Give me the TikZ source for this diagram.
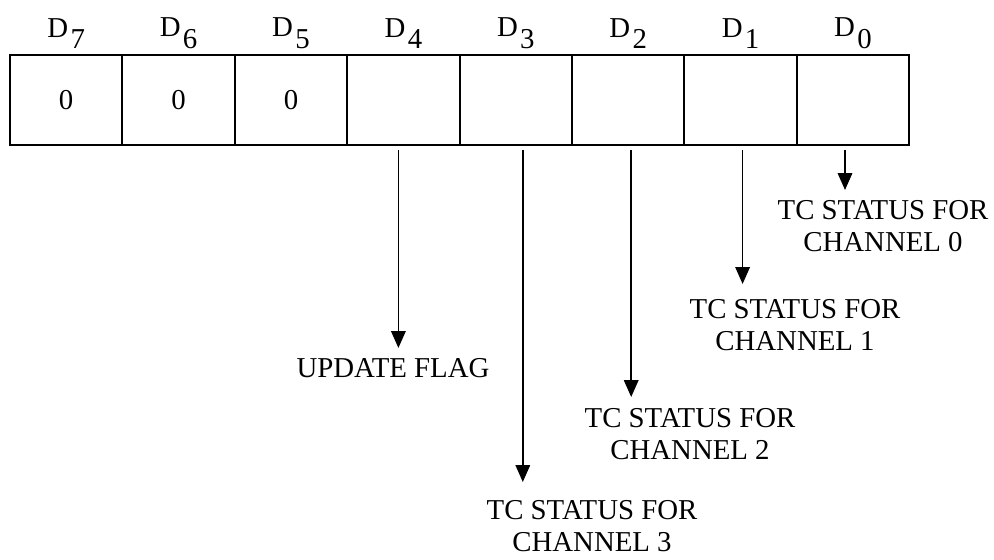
\documentclass[tikz,border=0pt]{standalone}
\usepackage{fontspec}
\setmainfont{Liberation Serif}
\usepackage{tikz}
\usetikzlibrary{arrows.meta, positioning}
\newcommand{\regfont}{\fontsize{20.5}{22.8}\selectfont}

\begin{document}
\begin{tikzpicture}[
        bitcell/.style={rectangle, draw=black, line width=1.4pt, minimum width=2.81cm, minimum height=2.25cm, inner sep=0pt, font=\regfont},
        bitlabel/.style={inner sep=0pt, font=\regfont},
        flagtext/.style={inner sep=0pt, anchor=north, align=center, font=\regfont},
        sigarrow/.style={-{Triangle[length=0.42cm, width=0.36cm]}, line width=1.2pt, color=black}
    ]
        \useasboundingbox (0,0) rectangle (24.85,-14);

        % Register cells D7 ... D0
        \foreach \k/\val [count=\i from 0] in {7/0,6/0,5/0,4/,3/,2/,1/,0/} {
            \node[bitcell] (d\k) at ({1.655+2.81*\i}, -2.5) {\val};
            \node[bitlabel, above=0.125cm of d\k] (lbl\k) {D\kern0.08em\raisebox{-0.4em}{\k}};
        }

        % Status texts
        \node[flagtext] (flag) at (9.825, -8.95) {UPDATE FLAG};
        \node[flagtext] (ch3) at (14.8, -12.5) {TC STATUS FOR\\CHANNEL 3};
        \node[flagtext] (ch2) at (17.25, -10.2) {TC STATUS FOR\\CHANNEL 2};
        \node[flagtext] (ch1) at (19.875, -7.475) {TC STATUS FOR\\CHANNEL 1};
        \node[flagtext] (ch0) at (22.075, -5.0) {TC STATUS FOR\\CHANNEL 0};

        % Connections
        \foreach \k/\dx/\gap/\dst in {4/-0.125cm/0.25cm/flag, 3/0.175cm/0.45cm/ch3, 2/0.075cm/0.275cm/ch2, 1/0.05cm/0.375cm/ch1, 0/-0.2cm/0.25cm/ch0}
            \draw[sigarrow, shorten <=0.1cm, shorten >=\gap] ([xshift=\dx]d\k.south) -- ([xshift=\dx]d\k.south |- \dst.north);
    \end{tikzpicture}
\end{document}
